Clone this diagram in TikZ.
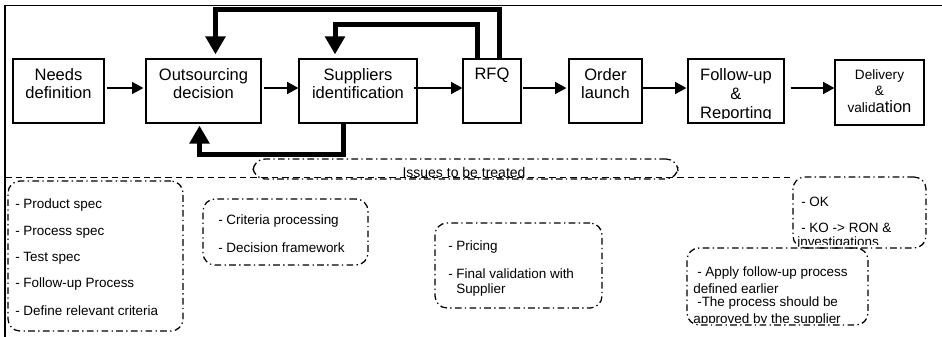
\documentclass[tikz,border=0pt]{standalone}
\usepackage{fontspec}
\setmainfont{Liberation Sans}
\usetikzlibrary{arrows.meta}
\begin{document}
\begin{tikzpicture}[x=0.75pt,y=-0.75pt,
  box/.style={draw, line width=0.9pt, inner sep=0pt},
  lbl/.style={inner sep=0pt, font=\fontsize{12.4pt}{13.5pt}\selectfont, align=center},
  arr/.style={line width=1pt, -{Triangle[length=8.5pt,width=9pt]}},
  fb/.style={line width=3.75pt, -{Triangle[length=13.5pt,width=14.5pt]}},
  dd/.style={draw, line width=0.95pt, dash pattern=on 5pt off 2.5pt on 1pt off 2.5pt, rounded corners=9pt, inner sep=0pt},
  item/.style={anchor=west, inner sep=0pt, font=\fontsize{10.1pt}{12pt}\selectfont},
]
\useasboundingbox (0,0) rectangle (942,336);
\clip (0,0) rectangle (942,336);

% frame
\coordinate (fbl) at (5,360);
\coordinate (ftl) at (5,5.5);
\coordinate (ftr) at (960,5.5);
\draw[line width=0.9pt] (fbl) -- (ftl) -- (ftr);

% process boxes
\node[box, minimum width=68.25pt, minimum height=48pt] (needs) at (58.5,91) {};
\node[box, minimum width=86.25pt, minimum height=48pt] (out) at (203.5,91) {};
\node[box, minimum width=88.5pt, minimum height=48pt] (supp) at (358,91) {};
\node[box, minimum width=43.5pt, minimum height=48pt] (rfq) at (492,91) {};
\node[box, minimum width=54.75pt, minimum height=48pt] (order) at (605.5,91) {};
\node[box, minimum width=72pt, minimum height=48pt] (follow) at (736,91) {};
\node[box, minimum width=66.75pt, minimum height=48.75pt] (deliv) at (879.5,92.5) {};

% box texts
\node[lbl] (tneeds) at (58.5,83.5) {Needs\\definition};
\node[lbl] (tout) at (203.5,83.5) {Outsourcing\\decision};
\node[lbl] (tsupp) at (358,83.5) {Suppliers\\identification};
\node[lbl] (trfq) at (492,75) {RFQ};
\node[lbl] (torder) at (605.5,83.5) {Order\\launch};
\begin{scope}
\clip (688,59) rectangle (784,118);
\node[lbl, font=\fontsize{12.4pt}{14.25pt}\selectfont] (tfollow) at (736,95.5) {Follow-up\\\&\\Reporting};
\end{scope}
\node[lbl, font=\fontsize{10.2pt}{12.4pt}\selectfont] (tdeliv) at (879.5,91) {Delivery\\\&\\valid{\fontsize{12.4pt}{12.4pt}\selectfont ation}};

% thin arrows
\draw[arr, shorten <=1.5pt, shorten >=1.5pt] ([yshift=2.25pt]needs.east) -- ([yshift=2.25pt]out.west);
\draw[arr, shorten <=1.5pt] ([yshift=2.25pt]out.east) -- ([yshift=2.25pt]supp.west);
\draw[arr, shorten <=-3pt] ([yshift=2.25pt]supp.east) -- ([yshift=2.25pt]rfq.west);
\draw[arr, shorten <=0.75pt, shorten >=1.5pt] ([yshift=2.25pt]rfq.east) -- ([yshift=2.25pt]order.west);
\draw[arr, shorten >=0.75pt] ([yshift=2.25pt]order.east) -- ([yshift=2.25pt]follow.west);
\draw[arr, shorten <=4.5pt] ([yshift=2.25pt]follow.east) -- ([yshift=2.25pt]follow.east -| deliv.west);

% thick feedback arrows
\coordinate (k1) at (499.5,9.5);
\draw[fb, shorten >=3pt] (rfq.north -| k1) -- (k1) -| ([xshift=9pt]out.north);
\coordinate (k2) at (477,24.5);
\draw[fb, shorten >=3pt] (rfq.north -| k2) -- (k2) -| ([xshift=-17.25pt]supp.north);
\coordinate (k3) at (343,154.5);
\draw[fb, shorten >=1.5pt] (supp.south -| k3) -- (k3) -| ([xshift=-3pt]out.south);

% issues
\node[dd, minimum width=318.75pt, minimum height=15pt] (issues) at (465.5,169) {};
\coordinate (dl) at (5,177.5);
\coordinate (dr) at (793,177.5);
\draw[line width=0.9pt, dash pattern=on 5pt off 3pt] (dl) -- (dr);
\node[inner sep=0pt, font=\fontsize{10.5pt}{12pt}\selectfont] (tissues) at (464,172) {Issues to be treated};

% dash-dot boxes
\node[dd, minimum width=131.25pt, minimum height=112.5pt] (b1) at (95.5,256) {};
\node[dd, minimum width=123.75pt, minimum height=49.5pt] (b2) at (285.5,232) {};
\node[dd, minimum width=125.25pt, minimum height=63.75pt] (b3) at (518.5,265.5) {};
\node[dd, minimum width=99.75pt, minimum height=53.25pt] (b4) at (859.5,212.5) {};
\node[dd, minimum width=135.75pt, minimum height=57.75pt] (b5) at (777.5,286.5) {};

% items
\node[item] (i11) at (15,205) {- Product spec};
\node[item] (i12) at (15,232) {- Process spec};
\node[item] (i13) at (15,258) {- Test spec};
\node[item] (i14) at (15,284) {- Follow-up Process};
\node[item] (i15) at (15,311) {- Define relevant criteria};

\node[item] (i21) at (218,221) {- Criteria processing};
\node[item] (i22) at (218,248) {- Decision framework};

\node[item] (i31) at (448,247) {- Pricing};
\node[item] (i32) at (448,274) {- Final validation with};
\node[item] (i33) at (456,290) {Supplier};

\node[item] (i41) at (801,202) {- OK};
\node[item] (i42) at (801,228) {- KO -> RON \&};
\begin{scope}
\clip (780,230) rectangle (930,244.5);
\node[item] (i43) at (797,243.5) {investigations};
\end{scope}

\node[item] (i51) at (697,273) {- Apply follow-up process};
\node[item] (i52) at (693,289) {defined earlier};
\node[item] (i53) at (697,303) {-The process should be};
\begin{scope}
\clip (680,305) rectangle (870,322);
\node[item] (i54) at (693,320.5) {approved by the supplier};
\end{scope}
\end{tikzpicture}
\end{document}
